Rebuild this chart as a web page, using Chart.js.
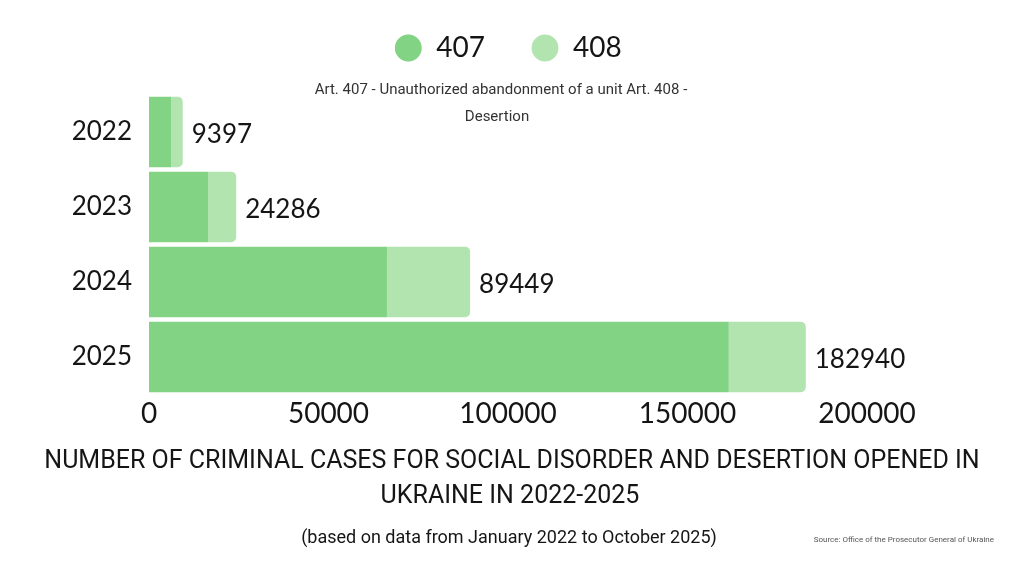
<!DOCTYPE html>
<html>
<head>
<meta charset="utf-8">
<script src="https://cdn.jsdelivr.net/npm/chart.js@4.4.1/dist/chart.umd.min.js"></script>
<style>
  html, body { margin: 0; padding: 0; background: #fff; }
  #wrap { width: 1024px; height: 576px; }
</style>
</head>
<body>
<div id="wrap"><canvas id="cases-chart"></canvas></div>
<script>
const years = ['2022', '2023', '2024', '2025'];
const art407 = [6130, 16430, 66280, 161500];
const art408 = [3267, 7856, 23169, 21440];
const seriesNames = ['407', '408'];
const xTicks = [0, 50000, 100000, 150000, 200000];

const noteLines = ['Art. 407 - Unauthorized abandonment of a unit Art. 408 -', 'Desertion'];
const titleLines = ['NUMBER OF CRIMINAL CASES FOR SOCIAL DISORDER AND DESERTION OPENED IN', 'UKRAINE IN 2022-2025'];
const periodNote = '(based on data from January 2022 to October 2025)';
const sourceNote = 'Source: Office of the Prosecutor General of Ukraine';

const ink = '#151515';
const mainFont = 'Lato, "Open Sans", sans-serif';
const textFont = 'Roboto, "Noto Sans", sans-serif';

// totals at the end of each bar + the extra texts
const extrasPlugin = {
    id: 'extras',
    afterDatasetsDraw(chart) {
        const ctx = chart.ctx;
        const topMeta = chart.getDatasetMeta(1);
        ctx.save();
        ctx.font = '26px ' + mainFont;
        ctx.fillStyle = ink;
        ctx.textAlign = 'left';
        ctx.textBaseline = 'middle';
        topMeta.data.forEach((bar, i) => {
            const total = art407[i] + art408[i];
            ctx.fillText(String(total), bar.x + 9, bar.y + 3);
        });
        ctx.restore();
    },
    afterDraw(chart) {
        const ctx = chart.ctx;
        ctx.save();
        ctx.textAlign = 'center';
        ctx.textBaseline = 'middle';
        ctx.fillStyle = '#333';
        ctx.font = '15px ' + textFont;
        ctx.fillText(noteLines[0], 501, 90);
        ctx.fillText(noteLines[1], 497, 117);
        ctx.fillStyle = ink;
        ctx.font = '25px ' + textFont;
        ctx.fillText(titleLines[0], 512, 462);
        ctx.fillText(titleLines[1], 510, 497);
        ctx.font = '18px ' + textFont;
        ctx.fillText(periodNote, 509, 538);
        ctx.fillStyle = '#555';
        ctx.font = '8px ' + textFont;
        ctx.textAlign = 'right';
        ctx.fillText(sourceNote, 994, 540);
        ctx.restore();
    }
};

const ctx = document.getElementById('cases-chart').getContext('2d');
const chart = new Chart(ctx, {
    type: 'bar',
    data: {
        labels: years,
        datasets: [{
            label: seriesNames[0],
            data: art407,
            backgroundColor: '#82d383',
            borderRadius: 0,
            barPercentage: 0.94,
            categoryPercentage: 1
        }, {
            label: seriesNames[1],
            data: art408,
            backgroundColor: '#b2e4b0',
            borderRadius: 5,
            barPercentage: 0.94,
            categoryPercentage: 1
        }]
    },
    options: {
        indexAxis: 'y',
        responsive: true,
        maintainAspectRatio: false,
        animation: false,
        layout: {
            padding: { top: -12, right: 0, bottom: 141.5, left: 0 }
        },
        scales: {
            x: {
                stacked: true,
                min: 0,
                max: 200000,
                afterBuildTicks: function(scale) {
                    scale.ticks = xTicks.map(v => ({ value: v }));
                },
                afterFit: function(scale) {
                    scale.height = 40;
                },
                grid: { display: false, drawTicks: false },
                border: { display: false },
                ticks: {
                    color: ink,
                    padding: 3,
                    maxRotation: 0,
                    font: { family: mainFont, size: 28 },
                    callback: function(value) {
                        return String(value);
                    }
                }
            },
            y: {
                stacked: true,
                afterFit: function(scale) {
                    scale.width = 149;
                },
                grid: { display: false, drawTicks: false },
                border: { display: false },
                ticks: {
                    color: ink,
                    padding: 17,
                    font: { family: mainFont, size: 26 }
                }
            },
            // empty right axis, only keeps room for the totals
            yRight: {
                type: 'category',
                position: 'right',
                afterFit: function(scale) {
                    scale.width = 157;
                },
                grid: { display: false, drawTicks: false },
                border: { display: false },
                ticks: { display: false }
            }
        },
        plugins: {
            legend: {
                display: true,
                position: 'top',
                fullSize: false,
                weight: 3000,
                labels: {
                    usePointStyle: true,
                    pointStyle: 'circle',
                    boxHeight: 19,
                    padding: 46,
                    color: ink,
                    font: { family: mainFont, size: 28 }
                }
            },
            subtitle: {
                display: true,
                position: 'top',
                text: ' ',
                font: { size: 14 },
                padding: { top: 0, bottom: 5.7 }
            },
            title: { display: false },
            tooltip: { enabled: false }
        }
    },
    plugins: [extrasPlugin]
});
</script>
</body>
</html>
